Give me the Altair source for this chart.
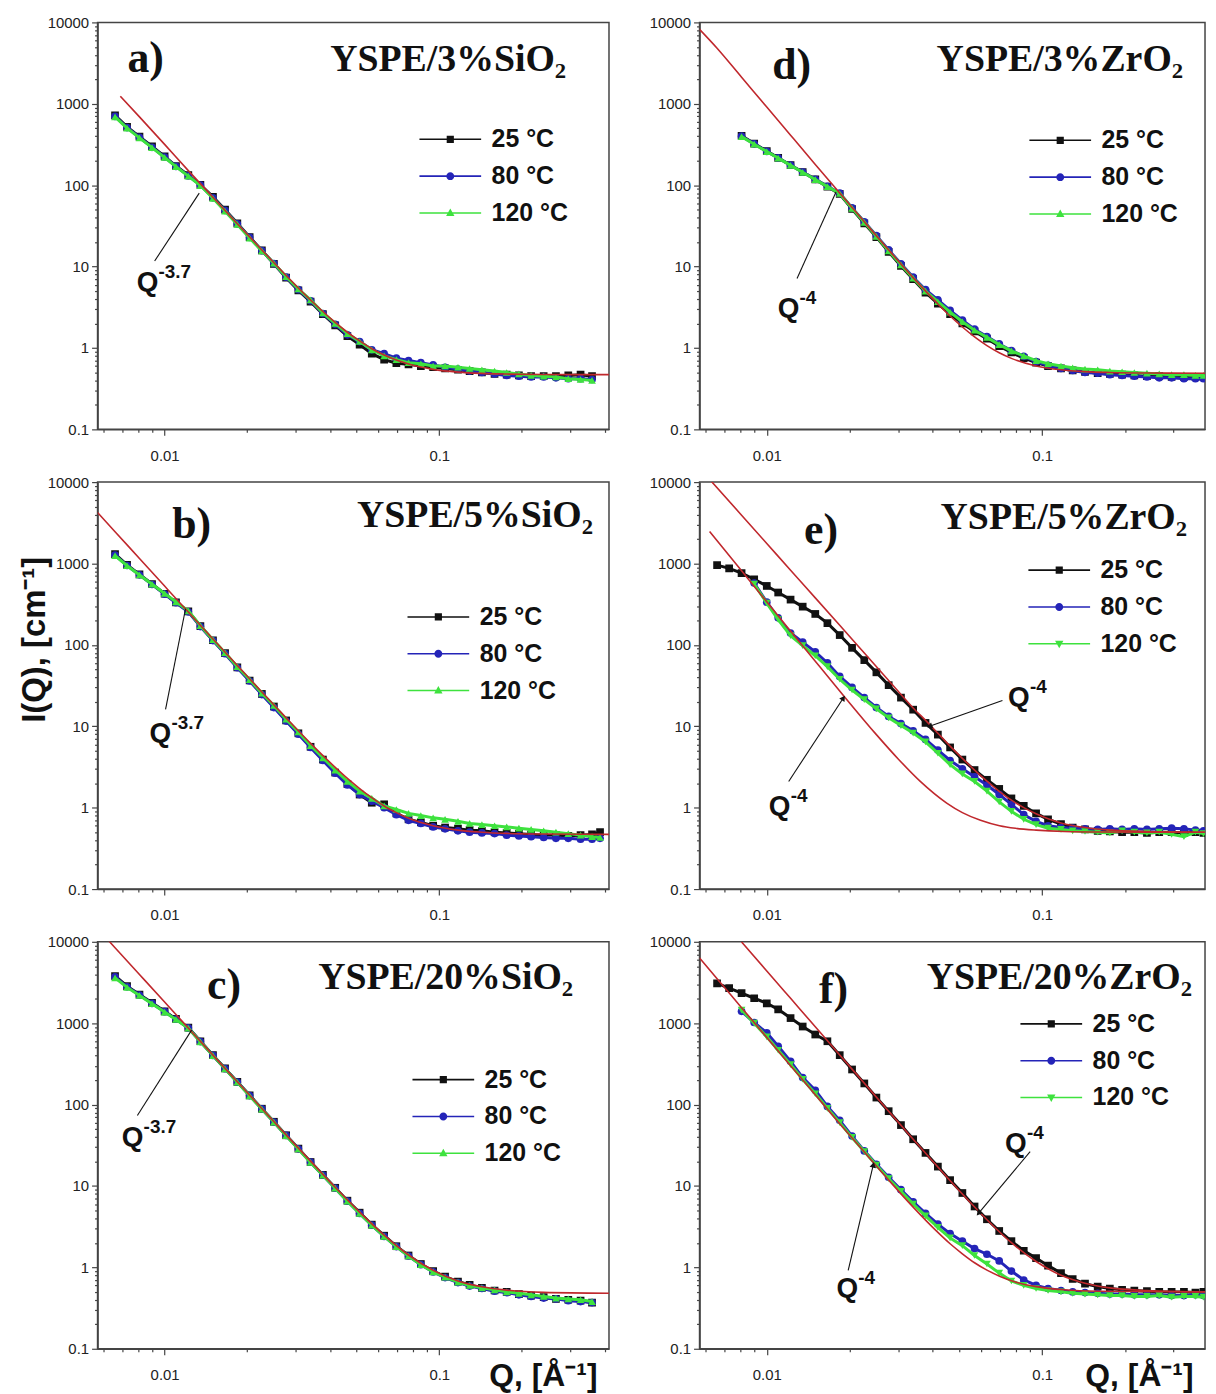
import altair as alt
import pandas as pd

# ---------------- data ----------------
Q = [0.0066, 0.0073, 0.0081, 0.009, 0.01, 0.011, 0.0122, 0.0135, 0.015, 0.0166,
     0.0184, 0.0204, 0.0226, 0.025, 0.0277, 0.0307, 0.034, 0.0377, 0.0418, 0.0463,
     0.0513, 0.0568, 0.063, 0.0698, 0.0773, 0.0857, 0.095, 0.105, 0.117, 0.129,
     0.143, 0.159, 0.176, 0.195, 0.216, 0.24, 0.266, 0.295, 0.327, 0.36, 0.385]

A25 = [720, 520, 395, 300, 226, 172, 133, 101, 72, 50, 34, 23, 15.8, 10.8, 7.3, 5.1, 3.7, 2.6, 1.9, 1.4, 1.1, 0.85, 0.72, 0.65, 0.63, 0.6, 0.58, 0.56, 0.54, 0.52, 0.5, 0.48, 0.47, 0.46, 0.45, 0.45, 0.45, 0.46, 0.47, 0.45, None]
A80 = [700, 510, 388, 292, 222, 170, 130, 100, 70, 49, 33.5, 22.8, 15.7, 10.9, 7.4, 5.2, 3.8, 2.65, 1.95, 1.45, 1.2, 0.95, 0.85, 0.75, 0.7, 0.66, 0.62, 0.58, 0.55, 0.52, 0.5, 0.48, 0.46, 0.45, 0.44, 0.44, 0.43, 0.42, 0.42, 0.41, None]
A120 = [690, 502, 381, 289, 219, 169, 129, 99, 69, 48, 33, 22.4, 15.6, 11, 7.5, 5.3, 3.9, 2.7, 2.0, 1.5, 1.2, 0.95, 0.8, 0.72, 0.66, 0.64, 0.6, 0.6, 0.58, 0.56, 0.54, 0.52, 0.5, 0.48, 0.46, 0.45, 0.44, 0.42, 0.41, 0.4, None]

B25 = [1300, 960, 735, 560, 425, 332, 258, 170, 114, 79, 53, 36.5, 25, 17.5, 11.8, 8.2, 5.6, 3.9, 2.7, 1.95, 1.45, 1.15, 1.1, 0.85, 0.72, 0.66, 0.6, 0.57, 0.55, 0.53, 0.52, 0.5, 0.49, 0.48, 0.47, 0.46, 0.46, 0.45, 0.46, 0.47, 0.5]
B80 = [1270, 945, 725, 552, 420, 330, 255, 168, 113, 78, 52.5, 36, 24.5, 17, 11.6, 8.0, 5.5, 3.8, 2.65, 1.9, 1.45, 1.2, 1.0, 0.82, 0.7, 0.64, 0.58, 0.55, 0.52, 0.5, 0.49, 0.48, 0.46, 0.45, 0.44, 0.43, 0.42, 0.42, 0.41, 0.41, 0.42]
B120 = [1250, 939, 723, 556, 428, 338, 262, 172, 116, 80, 54, 37.5, 25.5, 18, 12.2, 8.5, 5.8, 4.1, 2.9, 2.1, 1.6, 1.3, 1.05, 0.95, 0.85, 0.8, 0.75, 0.72, 0.68, 0.64, 0.62, 0.6, 0.58, 0.56, 0.54, 0.52, 0.5, 0.48, 0.46, 0.44, 0.43]

C25 = [3800, 2850, 2250, 1780, 1400, 1130, 880, 600, 405, 278, 190, 130, 89, 61.5, 42, 28.8, 19.7, 13.7, 9.5, 6.6, 4.7, 3.35, 2.45, 1.82, 1.4, 1.1, 0.9, 0.77, 0.67, 0.61, 0.56, 0.52, 0.5, 0.47, 0.45, 0.43, 0.41, 0.4, 0.39, 0.37, None]
C80 = [3700, 2800, 2220, 1750, 1385, 1120, 875, 595, 402, 276, 189, 129, 88.5, 61, 41.8, 28.6, 19.6, 13.6, 9.4, 6.5, 4.6, 3.3, 2.4, 1.8, 1.38, 1.08, 0.88, 0.75, 0.65, 0.59, 0.55, 0.51, 0.49, 0.46, 0.44, 0.42, 0.41, 0.39, 0.38, 0.37, None]
C120 = [3600, 2755, 2190, 1732, 1370, 1110, 870, 590, 400, 275, 188, 128, 88, 61, 41.5, 28.5, 19.5, 13.6, 9.4, 6.5, 4.6, 3.3, 2.4, 1.8, 1.38, 1.08, 0.88, 0.76, 0.66, 0.6, 0.56, 0.53, 0.5, 0.48, 0.46, 0.44, 0.42, 0.41, 0.4, 0.38, None]

D25 = [None, None, 405, 325, 262, 217, 176, 145, 118, 96, 78, 51, 34, 23, 15.2, 10.2, 7.0, 4.8, 3.5, 2.6, 2.0, 1.6, 1.3, 1.05, 0.88, 0.75, 0.66, 0.6, 0.56, 0.53, 0.51, 0.49, 0.48, 0.47, 0.46, 0.45, 0.45, 0.44, 0.44, 0.44, 0.44]
D80 = [None, None, 400, 322, 260, 216, 176, 145, 118, 97, 80, 52.5, 35.5, 24, 16, 10.8, 7.4, 5.2, 3.9, 2.9, 2.2, 1.7, 1.38, 1.12, 0.93, 0.79, 0.68, 0.61, 0.56, 0.53, 0.5, 0.49, 0.47, 0.46, 0.45, 0.44, 0.43, 0.43, 0.42, 0.42, 0.42]
D120 = [None, None, 395, 319, 259, 215, 175, 144, 117, 96, 79, 52, 35, 23.5, 15.6, 10.5, 7.2, 5.0, 3.7, 2.75, 2.1, 1.65, 1.35, 1.1, 0.92, 0.8, 0.7, 0.64, 0.6, 0.57, 0.55, 0.54, 0.52, 0.51, 0.5, 0.49, 0.48, 0.47, 0.47, 0.46, 0.46]

E25 = [955, 870, 760, 640, 530, 440, 360, 295, 240, 185, 132, 92, 65, 46, 32, 22.5, 16, 11, 7.9, 5.5, 3.9, 2.9, 2.2, 1.7, 1.3, 1.05, 0.85, 0.72, 0.63, 0.57, 0.54, 0.52, 0.51, 0.5, 0.5, 0.49, 0.5, 0.5, 0.49, 0.5, 0.49]
E80 = [None, None, None, 575, 335, 215, 140, 108, 82, 60, 41, 30, 22.5, 17, 13.2, 10.8, 8.8, 6.9, 5.1, 3.8, 3.0, 2.4, 1.9, 1.45, 1.1, 0.82, 0.68, 0.6, 0.57, 0.56, 0.55, 0.54, 0.55, 0.54, 0.55, 0.54, 0.55, 0.56, 0.55, 0.53, 0.52]
E120 = [None, None, None, 560, 326, 205, 130, 98, 73.6, 54, 37.8, 27.9, 21.3, 16.4, 12.7, 10.2, 8.26, 6.43, 4.66, 3.38, 2.6, 2.1, 1.6, 1.18, 0.9, 0.72, 0.62, 0.56, 0.54, 0.52, 0.51, 0.5, 0.49, 0.52, 0.5, 0.49, 0.5, 0.47, 0.44, 0.5, 0.48]

F25 = [3080, 2690, 2336, 2026, 1756, 1479, 1156, 910, 726, 600, 405, 270, 182, 122, 83, 56, 37.5, 25.5, 17.3, 11.8, 8.2, 5.6, 3.9, 2.8, 2.1, 1.6, 1.3, 1.05, 0.85, 0.72, 0.63, 0.58, 0.55, 0.53, 0.52, 0.51, 0.5, 0.5, 0.5, 0.49, 0.5]
F80 = [None, None, 1400, 1020, 760, 520, 340, 215, 150, 95, 64, 41, 27, 18.5, 12.8, 9.0, 6.4, 4.6, 3.4, 2.6, 2.1, 1.7, 1.45, 1.2, 0.9, 0.7, 0.6, 0.55, 0.52, 0.5, 0.49, 0.48, 0.47, 0.47, 0.46, 0.46, 0.46, 0.45, 0.45, 0.46, 0.45]
F120 = [None, None, 1450, 1000, 680, 465, 310, 205, 136, 90, 60, 39.5, 26.5, 18, 12.3, 8.6, 6.0, 4.3, 3.1, 2.3, 1.85, 1.4, 1.1, 0.85, 0.68, 0.6, 0.55, 0.52, 0.5, 0.48, 0.47, 0.46, 0.45, 0.45, 0.44, 0.44, 0.45, 0.43, 0.44, 0.44, 0.43]

# fitted curves (red)
FIT_A_Q = [0.0069, 0.0081, 0.01, 0.0122, 0.015, 0.0184, 0.0226, 0.0277, 0.034, 0.0418, 0.0463, 0.0513, 0.0568, 0.063, 0.0698, 0.0773, 0.095, 0.117, 0.143, 0.176, 0.24, 0.415]
FIT_A_I = [1240, 690, 317, 151, 71, 33.6, 16.0, 7.76, 3.88, 2.06, 1.56, 1.22, 0.98, 0.82, 0.71, 0.634, 0.546, 0.505, 0.487, 0.478, 0.472, 0.47]
FIT_B_Q = [0.0057, 0.0066, 0.0081, 0.01, 0.0122, 0.015, 0.0184, 0.0226, 0.0277, 0.034, 0.0418, 0.0463, 0.0513, 0.0568, 0.063, 0.0698, 0.0773, 0.095, 0.117, 0.143, 0.176, 0.24, 0.415]
FIT_B_I = [4230, 2460, 1152, 528, 253, 118, 55.8, 26.4, 12.7, 6.17, 3.13, 2.29, 1.72, 1.33, 1.05, 0.87, 0.74, 0.6, 0.53, 0.5, 0.483, 0.474, 0.47]
FIT_C_Q = [0.006, 0.0066, 0.0081, 0.01, 0.0122, 0.015, 0.0184, 0.0226, 0.0277, 0.034, 0.0418, 0.0513, 0.063, 0.0773, 0.095, 0.117, 0.143, 0.176, 0.24, 0.415]
FIT_C_I = [12050, 8470, 3970, 1820, 871, 405, 191, 89.5, 42.5, 20.2, 9.63, 4.77, 2.49, 1.42, 0.92, 0.68, 0.577, 0.525, 0.493, 0.482]
FIT_D_Q = [0.0057, 0.0066, 0.0081, 0.01, 0.0122, 0.015, 0.0184, 0.0226, 0.0277, 0.034, 0.0418, 0.0463, 0.0513, 0.0568, 0.063, 0.0698, 0.0773, 0.095, 0.117, 0.143, 0.176, 0.24, 0.39]
FIT_D_I = [8200, 4810, 2118, 912, 411, 180, 80.1, 35.5, 16.0, 7.31, 3.48, 2.47, 1.81, 1.37, 1.07, 0.874, 0.745, 0.602, 0.539, 0.512, 0.5, 0.493, 0.49]
FIT_E1_Q = [0.0062, 0.0081, 0.01, 0.0122, 0.015, 0.0184, 0.0226, 0.0277, 0.034, 0.0385, 0.0418, 0.0463, 0.0513, 0.0568, 0.063, 0.0698, 0.0773, 0.0857, 0.095, 0.105, 0.117, 0.143, 0.176, 0.24, 0.39]
FIT_E1_I = [10800, 3925, 1762, 826, 378, 174, 79.5, 36.6, 16.8, 11.0, 8.2, 5.7, 4.03, 2.9, 2.12, 1.59, 1.24, 1.0, 0.84, 0.73, 0.65, 0.57, 0.53, 0.51, 0.5]
FIT_E2_Q = [0.0062, 0.0081, 0.01, 0.0122, 0.015, 0.0192, 0.025, 0.03, 0.036, 0.045, 0.0513, 0.0597, 0.07, 0.08, 0.095, 0.12, 0.16, 0.39]
FIT_E2_I = [2480, 816, 338, 148, 62.9, 22.8, 7.9, 3.97, 2.12, 1.14, 0.87, 0.7, 0.6, 0.558, 0.53, 0.51, 0.503, 0.5]
FIT_F1_Q = [0.0081, 0.01, 0.0122, 0.015, 0.0184, 0.0226, 0.0277, 0.034, 0.0418, 0.0513, 0.063, 0.0773, 0.095, 0.117, 0.143, 0.176, 0.24, 0.39]
FIT_F1_I = [9980, 4385, 2021, 904, 407, 183, 83, 37.6, 17.1, 7.96, 3.85, 2.01, 1.18, 0.8, 0.64, 0.56, 0.52, 0.5]
FIT_F2_Q = [0.0057, 0.0066, 0.0081, 0.01, 0.0122, 0.015, 0.0184, 0.0226, 0.0277, 0.034, 0.0418, 0.0463, 0.0513, 0.0568, 0.063, 0.07, 0.08, 0.095, 0.12, 0.16, 0.39]
FIT_F2_I = [6330, 3524, 1552, 668, 301, 132, 58.3, 26.1, 11.85, 5.5, 2.69, 1.95, 1.47, 1.14, 0.925, 0.78, 0.66, 0.58, 0.53, 0.51, 0.5]

# annotation leaders: tip (q, I), start (q, I), label anchor (q, I), exponent
ANN_TIP_Q = {"a": [0.01337], "b": [0.01192], "c": [0.01254], "d": [0.01784], "e": [0.039, 0.01897], "f": [0.0587, 0.02436]}
ANN_TIP_I = {"a": [80], "b": [278], "c": [822], "d": [82.6], "e": [10.0, 22.3], "f": [4.6, 18.2]}
ANN_FROM_Q = {"a": [0.0092], "b": [0.01008], "c": [0.00796], "d": [0.01288], "e": [0.0717, 0.01201], "f": [0.0904, 0.01975]}
ANN_FROM_I = {"a": [11.7], "b": [16.1], "c": [73.4], "d": [7.15], "e": [20.8, 2.1], "f": [26.5, 0.92]}
ANN_TXT_Q = {"a": [0.00791], "b": [0.00882], "c": [0.00698], "d": [0.01095], "e": [0.0752, 0.01017], "f": [0.0733, 0.0179]}
ANN_TXT_I = {"a": [5.05], "b": [6.5], "c": [30.8], "d": [2.43], "e": [17.7, 0.82], "f": [26.5, 0.43]}
ANN_EXP = {"a": ["-3.7"], "b": ["-3.7"], "c": ["-3.7"], "d": ["-4"], "e": ["-4", "-4"], "f": ["-4", "-4"]}

SERIES = ["25 °C", "80 °C", "120 °C"]
TITLES = {"a": "YSPE/3%SiO₂", "b": "YSPE/5%SiO₂", "c": "YSPE/20%SiO₂",
          "d": "YSPE/3%ZrO₂", "e": "YSPE/5%ZrO₂", "f": "YSPE/20%ZrO₂"}

# ---------------- styles ----------------
COLORS = ["#111111", "#2424b8", "#3ee23e"]
FIT_COLOR = "#c0282d"
ARROW_ANGLE = {"e": [250, 33.5], "f": [220, 13.4]}

BAR = "M-3.1,-0.08H3.1V0.08H-3.1Z"
PATH_SQ = BAR + "M-0.36,-0.36H0.36V0.36H-0.36Z"
PATH_CI = BAR + "M0.4,0A0.4,0.4,0,1,1,-0.4,0A0.4,0.4,0,1,1,0.4,0Z"
PATH_TU = BAR + "M0,-0.45L0.42,0.3L-0.42,0.3Z"
PATH_TD = BAR + "M0,0.45L-0.42,-0.3L0.42,-0.3Z"

MAJOR = "abs(log(datum.value)/LN10 - round(log(datum.value)/LN10)) < 0.001"
YTICKS = [round(m * 10.0 ** e, 6) for e in range(-1, 4) for m in range(1, 10)] + [10000]
XT_L = [0.006, 0.007, 0.008, 0.009, 0.01, 0.02, 0.03, 0.04, 0.05, 0.06, 0.07, 0.08, 0.09, 0.1, 0.2, 0.3, 0.4]
XT_R = [0.006, 0.007, 0.008, 0.009, 0.01, 0.02, 0.03, 0.04, 0.05, 0.06, 0.07, 0.08, 0.09, 0.1, 0.2, 0.3]

H = 409


def long_df(vals):
    rows = []
    for s, arr in zip(SERIES, vals):
        assert len(arr) == len(Q), (s, len(arr))
        for q, v in zip(Q, arr):
            if v is not None:
                rows.append({"q": q, "i": v, "series": s})
    return pd.DataFrame(rows)


def make_panel(key, vals, fits, tri_down, legend_xy, xdom, xt, W,
               letter_xy, title_xy, ytitle=None, xtitle=None):
    tick_size = {"condition": {"test": MAJOR, "value": 6}, "value": 3}
    xkw = dict(values=xt, format="~g", labelExpr=f"({MAJOR}) ? datum.label : ''",
               tickSize=tick_size, labelPadding=13, labelOverlap=False,
               labelFlush=False, grid=False, labelFontSize=15)
    if xtitle:
        xkw.update(title=xtitle, titleX=W - 12, titleY=37, titleAlign="right",
                   titleBaseline="alphabetic", titleFontSize=32)
    else:
        xkw.update(title=None)
    ykw = dict(values=YTICKS, format="~g", labelExpr=f"({MAJOR}) ? datum.label : ''",
               tickSize=tick_size, labelPadding=3, labelOverlap=False,
               labelFlush=False, grid=False, labelFontSize=15)
    if ytitle:
        ykw.update(title=ytitle, titleX=-63, titleY=158, titleAngle=-90,
                   titleAlign="center", titleBaseline="middle", titleFontSize=33)
    else:
        ykw.update(title=None)

    X = alt.X("q:Q", scale=alt.Scale(type="log", domain=xdom, nice=False), axis=alt.Axis(**xkw))
    Y = alt.Y("i:Q", scale=alt.Scale(type="log", domain=[0.1, 10000], nice=False), axis=alt.Axis(**ykw))

    df = long_df(vals)
    shapes = ["square", "circle", "triangle-down" if tri_down else "triangle-up"]
    layers = []
    for s, c, sh in zip(SERIES, COLORS, shapes):
        base = alt.Chart(df).transform_filter(alt.datum.series == s)
        layers.append(base.mark_line(color=c, strokeWidth=3, clip=True).encode(x=X, y=Y))
        layers.append(base.mark_point(shape=sh, filled=True, size=60, color=c,
                                      opacity=1, clip=True).encode(x=X, y=Y))
    for fq, fi in fits:
        fdf = pd.DataFrame({"q": fq, "i": fi})
        layers.append(alt.Chart(fdf).mark_line(color=FIT_COLOR, strokeWidth=1.6, clip=True,
                                               interpolate="monotone").encode(x=X, y=Y))

    adf = pd.DataFrame({"q": ANN_TIP_Q[key], "i": ANN_TIP_I[key],
                        "q2": ANN_FROM_Q[key], "i2": ANN_FROM_I[key]})
    layers.append(alt.Chart(adf).mark_rule(color="#111", strokeWidth=1.1).encode(
        x=X, y=Y, x2="q2:Q", y2="i2:Q"))
    if key in ARROW_ANGLE:
        hdf = pd.DataFrame({"q": ANN_TIP_Q[key], "i": ANN_TIP_I[key], "ang": ARROW_ANGLE[key]})
        layers.append(alt.Chart(hdf).mark_point(shape="triangle-up", filled=True, size=40,
                                                color="#111", opacity=1).encode(
            x=X, y=Y, angle=alt.Angle("ang:Q", scale=None)))
    tdf = pd.DataFrame({"q": ANN_TXT_Q[key], "i": ANN_TXT_I[key],
                        "t": ["Q"] * len(ANN_TXT_Q[key]), "sup": ANN_EXP[key]})
    layers.append(alt.Chart(tdf).mark_text(align="left", baseline="alphabetic",
                                           font="Liberation Sans", fontWeight="bold",
                                           fontSize=28, color="#111").encode(x=X, y=Y, text="t:N"))
    layers.append(alt.Chart(tdf).mark_text(align="left", baseline="alphabetic",
                                           font="Liberation Sans", fontWeight="bold",
                                           fontSize=19, color="#111", dx=22, dy=-13).encode(
        x=X, y=Y, text="sup:N"))

    # panel letter and sample title
    ldf = pd.DataFrame({"t": [key + ")"]})
    layers.append(alt.Chart(ldf).mark_text(align="left", baseline="alphabetic",
                                           font="Liberation Serif", fontWeight="bold",
                                           fontSize=44, color="#111").encode(
        x=alt.value(letter_xy[0]), y=alt.value(letter_xy[1]), text="t:N"))
    ttdf = pd.DataFrame({"t": [TITLES[key]]})
    layers.append(alt.Chart(ttdf).mark_text(align="right", baseline="alphabetic",
                                            font="Liberation Serif", fontWeight="bold",
                                            fontSize=38, color="#111").encode(
        x=alt.value(title_xy[0]), y=alt.value(title_xy[1]), text="t:N"))

    # legend (line + marker symbols)
    paths = [PATH_SQ, PATH_CI, PATH_TD if tri_down else PATH_TU]
    leg = alt.Legend(title=None, orient="none", legendX=legend_xy[0], legendY=legend_xy[1] - 4,
                     direction="vertical", labelFont="Liberation Sans", labelFontSize=25,
                     labelFontWeight="bold", labelColor="#111", symbolSize=400,
                     symbolStrokeWidth=0, rowPadding=11, labelOffset=29, padding=0)
    gdf = pd.DataFrame({"series": SERIES, "q": [0.01] * 3, "i": [1.0] * 3})
    layers.append(alt.Chart(gdf).transform_filter("false").mark_point(filled=True, opacity=1).encode(
        x=X, y=Y,
        color=alt.Color("series:N", scale=alt.Scale(domain=SERIES, range=COLORS), legend=leg),
        shape=alt.Shape("series:N", scale=alt.Scale(domain=SERIES, range=paths), legend=leg)))

    return alt.layer(*layers).properties(width=W, height=H)


XL = [0.0057, 0.415]
XR = [0.0057, 0.39]
WL, WR = 514, 508

pa = make_panel("a", [A25, A80, A120], [(FIT_A_Q, FIT_A_I)], False, (342, 109), XL, XT_L, WL, (30, 50), (471, 49))
pb = make_panel("b", [B25, B80, B120], [(FIT_B_Q, FIT_B_I)], False, (330, 127), XL, XT_L, WL, (75, 56), (498, 45),
                ytitle="I(Q), [cm⁻¹]")
pc = make_panel("c", [C25, C80, C120], [(FIT_C_Q, FIT_C_I)], False, (335, 130), XL, XT_L, WL, (110, 57), (478, 47),
                xtitle="Q, [Å⁻¹]")
pd_ = make_panel("d", [D25, D80, D120], [(FIT_D_Q, FIT_D_I)], False, (350, 110), XR, XT_R, WR, (73, 57), (486, 49))
pe = make_panel("e", [E25, E80, E120], [(FIT_E1_Q, FIT_E1_I), (FIT_E2_Q, FIT_E2_I)], True, (349, 80), XR, XT_R, WR,
                (105, 62), (490, 47))
pf = make_panel("f", [F25, F80, F120], [(FIT_F1_Q, FIT_F1_I), (FIT_F2_Q, FIT_F2_I)], True, (341, 74), XR, XT_R, WR,
                (120, 62), (495, 47), xtitle="Q, [Å⁻¹]")


def indep(c):
    return c.resolve_scale(color="independent", shape="independent").resolve_legend(
        color="independent", shape="independent")


col1 = indep(alt.vconcat(pa, pb, pc, spacing=10))
col2 = indep(alt.vconcat(pd_, pe, pf, spacing=10))
chart = indep(alt.hconcat(col1, col2, spacing=38))
chart = chart.properties(padding={"left": 10, "top": 3, "right": 2, "bottom": 2})
chart = chart.configure_view(stroke="#444", strokeWidth=1.5).configure_axis(
    labelFont="Liberation Sans", labelFontSize=15, labelColor="#222",
    tickColor="#444", domainColor="#444", domainWidth=1.5, tickWidth=1.2,
    titleFont="Liberation Sans", titleFontWeight="bold", titleColor="#111")

chart.save("out.html", embed_options={"renderer": "svg", "actions": False})
